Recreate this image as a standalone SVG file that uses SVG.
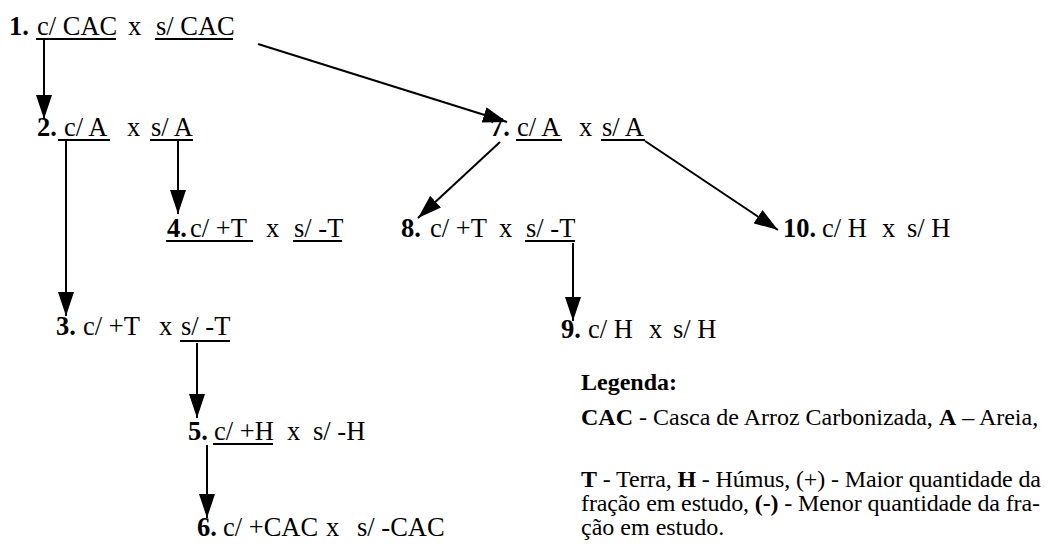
<svg xmlns="http://www.w3.org/2000/svg" width="1048" height="546" viewBox="0 0 1048 546">
<style>
text{font-family:"Liberation Serif","Times New Roman",serif;fill:#000}
.n{font-size:26.5px}
.lg{font-size:24px}
.b{font-weight:bold}
.u{stroke:#000;stroke-width:2}
.c{stroke:#000;stroke-width:2;fill:none;marker-end:url(#ah)}
</style>
<defs>
<marker id="ah" viewBox="0 0 24 16" refX="24" refY="8" markerWidth="24" markerHeight="16" markerUnits="userSpaceOnUse" orient="auto">
<path d="M0,0 L24,8 L0,16 z" fill="#000"/>
</marker>
</defs>
<rect width="1048" height="546" fill="#fff"/>
<g id="connectors">
<line class="c" x1="44" y1="40" x2="44" y2="119"/>
<line class="c" x1="258" y1="44" x2="507" y2="122"/>
<line class="c" x1="66" y1="141" x2="66" y2="316"/>
<line class="c" x1="178" y1="141" x2="178" y2="214"/>
<line class="c" x1="500" y1="142" x2="418" y2="218"/>
<line class="c" x1="645" y1="141" x2="778" y2="230"/>
<line class="c" x1="573" y1="243" x2="573" y2="321"/>
<line class="c" x1="197" y1="343" x2="197" y2="418"/>
<line class="c" x1="207" y1="445" x2="207" y2="518"/>
</g>
<g id="node1">
<text class="n" y="35"><tspan x="9" class="b">1.</tspan><tspan x="37">c/ CAC</tspan><tspan x="128">x</tspan><tspan x="156">s/ CAC</tspan></text>
<line class="u" x1="36" y1="39" x2="116" y2="39"/><line class="u" x1="155" y1="39" x2="233" y2="39"/>
</g>
<g id="node2">
<text class="n" y="136"><tspan x="37" class="b">2.</tspan><tspan x="64">c/ A</tspan><tspan x="127">x</tspan><tspan x="151">s/ A</tspan></text>
<line class="u" x1="58" y1="140" x2="110" y2="140"/><line class="u" x1="150" y1="140" x2="193" y2="140"/>
</g>
<g id="node4">
<text class="n" y="237"><tspan x="167" class="b">4.</tspan><tspan x="190">c/ +T</tspan><tspan x="266">x</tspan><tspan x="294">s/ -T</tspan></text>
<line class="u" x1="166" y1="241" x2="253" y2="241"/><line class="u" x1="293" y1="241" x2="342" y2="241"/>
</g>
<g id="node7">
<text class="n" y="136"><tspan x="490" class="b">7.</tspan><tspan x="517">c/ A</tspan><tspan x="579">x</tspan><tspan x="602">s/ A</tspan></text>
<line class="u" x1="516" y1="140" x2="562" y2="140"/><line class="u" x1="601" y1="140" x2="645" y2="140"/>
</g>
<g id="node8">
<text class="n" y="237"><tspan x="401" class="b">8.</tspan><tspan x="430">c/ +T</tspan><tspan x="499">x</tspan><tspan x="526">s/ -T</tspan></text>
<line class="u" x1="525" y1="241" x2="575" y2="241"/>
</g>
<g id="node10">
<text class="n" y="237"><tspan x="783" class="b">10.</tspan><tspan x="822">c/ H</tspan><tspan x="882">x</tspan><tspan x="907">s/ H</tspan></text>
</g>
<g id="node3">
<text class="n" y="335"><tspan x="56" class="b">3.</tspan><tspan x="83">c/ +T</tspan><tspan x="159">x</tspan><tspan x="181">s/ -T</tspan></text>
<line class="u" x1="180" y1="341" x2="230" y2="341"/>
</g>
<g id="node9">
<text class="n" y="338"><tspan x="561" class="b">9.</tspan><tspan x="588">c/ H</tspan><tspan x="649">x</tspan><tspan x="673">s/ H</tspan></text>
</g>
<g id="node5">
<text class="n" y="440"><tspan x="188" class="b">5.</tspan><tspan x="214">c/ +H</tspan><tspan x="287">x</tspan><tspan x="313">s/ -H</tspan></text>
<line class="u" x1="213" y1="444" x2="273" y2="444"/>
</g>
<g id="node6">
<text class="n" y="536"><tspan x="197" class="b">6.</tspan><tspan x="223">c/ +CAC</tspan><tspan x="326">x</tspan><tspan x="357">s/ -CAC</tspan></text>
</g>
<g id="legend">
<text class="lg b" x="581" y="390">Legenda:</text>
<text class="lg" x="581" y="425"><tspan class="b">CAC</tspan> - Casca de Arroz Carbonizada, <tspan class="b">A</tspan> – Areia,</text>
<text class="lg" x="581" y="487" textLength="460" lengthAdjust="spacing"><tspan class="b">T</tspan> - Terra, <tspan class="b">H</tspan> - Húmus, (+) - Maior quantidade da</text>
<text class="lg" x="581" y="511" textLength="459" lengthAdjust="spacing">fração em estudo, <tspan class="b">(-)</tspan> - Menor quantidade da fra-</text>
<text class="lg" x="581" y="535">ção em estudo.</text>
</g>
</svg>
